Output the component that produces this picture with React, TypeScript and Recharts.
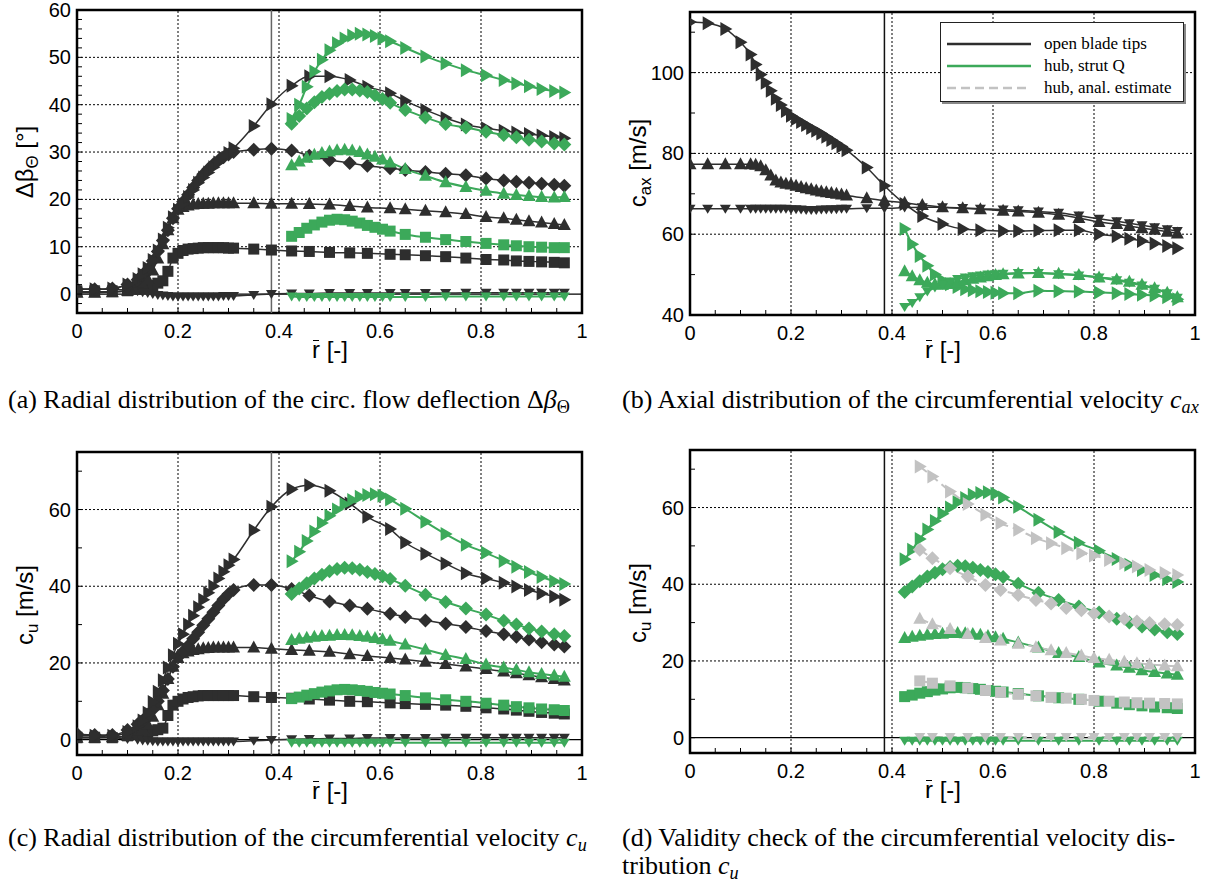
import React from "react";
import { ComposedChart, Line, XAxis, YAxis, ReferenceLine, ReferenceArea } from "recharts";

const BLACK = "#2e2e2e";
const GREEN = "#3ca95a";
const GRAY = "#c2c2c2";
const SANS = "'Liberation Sans', Arial, sans-serif";
const SERIF = "'Liberation Serif', 'Times New Roman', serif";

// radial stations
const rTips = [0, 0.035, 0.07, 0.1, 0.12, 0.13, 0.14, 0.15, 0.16, 0.17, 0.18, 0.19, 0.2, 0.21, 0.22, 0.23, 0.24, 0.25, 0.26, 0.27, 0.28, 0.29, 0.3, 0.31, 0.35, 0.385, 0.425, 0.46, 0.5, 0.54, 0.575, 0.62, 0.65, 0.69, 0.73, 0.77, 0.81, 0.845, 0.87, 0.895, 0.92, 0.945, 0.965];
const rHub = [0.425, 0.44, 0.455, 0.47, 0.485, 0.5, 0.515, 0.53, 0.545, 0.56, 0.575, 0.59, 0.605, 0.62, 0.65, 0.69, 0.73, 0.77, 0.81, 0.845, 0.87, 0.895, 0.92, 0.945, 0.965];
const rEst = [0.455, 0.48, 0.515, 0.55, 0.585, 0.615, 0.65, 0.685, 0.715, 0.745, 0.775, 0.8, 0.83, 0.86, 0.885, 0.91, 0.94, 0.965];
const rCasing = 0.385;

// axis ticks
const xTicks = [0, 0.05, 0.1, 0.15, 0.2, 0.25, 0.3, 0.35, 0.4, 0.45, 0.5, 0.55, 0.6, 0.65, 0.7, 0.75, 0.8, 0.85, 0.9, 0.95, 1];
const xMajor = [0, 0.2, 0.4, 0.6, 0.8, 1];
const xLabels = ["0", "0.2", "0.4", "0.6", "0.8", "1"];
const xGrid = [0.2, 0.4, 0.6, 0.8];

const defTicks = [-4, -2, 0, 2, 4, 6, 8, 10, 12, 14, 16, 18, 20, 22, 24, 26, 28, 30, 32, 34, 36, 38, 40, 42, 44, 46, 48, 50, 52, 54, 56, 58, 60];
const defMajor = [0, 10, 20, 30, 40, 50, 60];
const defGrid = [10, 20, 30, 40, 50];
const caxTicks = [40, 50, 60, 70, 80, 90, 100, 110];
const caxMajor = [40, 60, 80, 100];
const caxGrid = [60, 80, 100];
const cuTicks = [0, 10, 20, 30, 40, 50, 60, 70];
const cuMajor = [0, 20, 40, 60];
const cuGrid = [20, 40, 60];

// (a) flow deflection, open blade tips
const defTipsSquare = [0.5, 0.5, 0.5, 0.7, 1.0, 1.2, 1.5, 1.8, 2.3, 2.8, 4.8, 7.6, 8.6, 9.2, 9.5, 9.6, 9.7, 9.8, 9.8, 9.8, 9.8, 9.8, 9.7, 9.7, 9.5, 9.3, 9.1, 9.0, 8.8, 8.7, 8.6, 8.4, 8.3, 8.1, 7.9, 7.6, 7.3, 7.2, 7.0, 6.9, 6.8, 6.7, 6.6];
const defTipsUp = [0.3, 0.3, 0.4, 0.7, 1.2, 2.0, 3.2, 5.0, 7.5, 10.5, 13.5, 16.0, 17.8, 18.4, 18.7, 18.9, 19.0, 19.1, 19.1, 19.2, 19.2, 19.2, 19.2, 19.2, 19.2, 19.1, 19.1, 19.0, 18.9, 18.6, 18.3, 18.1, 17.9, 17.6, 17.3, 16.9, 16.3, 16.0, 15.7, 15.4, 15.1, 14.8, 14.6];
const defTipsDiamond = [1.0, 1.0, 1.2, 2.0, 3.0, 4.0, 5.2, 7.0, 9.0, 11.3, 13.5, 16.0, 18.0, 19.5, 21.0, 22.5, 24.0, 25.3, 26.4, 27.4, 28.2, 28.9, 29.5, 30.0, 30.5, 30.7, 30.3, 29.2, 28.3, 27.7, 27.1, 26.6, 26.2, 25.8, 25.4, 25.1, 24.4, 24.0, 23.7, 23.5, 23.3, 23.1, 22.9];
const defTipsDown = [1.0, 1.0, 1.0, 0.8, 0.6, 0.4, 0.2, 0.0, -0.2, -0.3, -0.4, -0.5, -0.5, -0.5, -0.5, -0.5, -0.5, -0.5, -0.5, -0.5, -0.5, -0.4, -0.4, -0.4, -0.2, 0.0, 0.1, 0.1, 0.2, 0.2, 0.2, 0.2, 0.2, 0.2, 0.2, 0.3, 0.3, 0.3, 0.3, 0.3, 0.3, 0.3, 0.3];
const defTipsRight = [1.0, 1.0, 1.2, 2.0, 3.2, 4.2, 5.5, 7.2, 9.2, 11.5, 14.0, 16.2, 17.8, 19.0, 20.5, 22.0, 23.5, 24.6, 25.7, 26.8, 27.8, 28.8, 29.8, 30.8, 35.5, 40.1, 44.0, 46.0, 46.0, 45.2, 43.8, 42.4, 40.8, 38.9, 37.2, 35.8, 35.0, 34.5, 34.1, 33.8, 33.5, 33.2, 32.9];

// (a) flow deflection, hub strut Q
const defHubSquare = [12.2, 13.0, 13.9, 14.6, 15.2, 15.6, 15.8, 15.7, 15.4, 15.0, 14.5, 14.1, 13.7, 13.3, 12.6, 12.0, 11.5, 11.1, 10.7, 10.4, 10.2, 10.0, 9.9, 9.8, 9.8];
const defHubUp = [27.2, 28.0, 28.8, 29.4, 29.8, 30.1, 30.4, 30.5, 30.3, 30.0, 29.5, 29.0, 28.4, 27.8, 26.4, 25.0, 23.6, 22.6, 21.8, 21.2, 20.9, 20.7, 20.5, 20.4, 20.5];
const defHubDiamond = [36.0, 37.6, 39.2, 40.5, 41.6, 42.3, 42.9, 43.2, 43.2, 43.0, 42.7, 42.0, 41.2, 40.4, 38.9, 37.3, 35.9, 35.2, 34.3, 33.6, 33.1, 32.6, 32.2, 31.8, 31.6];
const defHubDown = [-0.5, -0.6, -0.6, -0.6, -0.6, -0.6, -0.6, -0.6, -0.6, -0.6, -0.6, -0.6, -0.6, -0.6, -0.6, -0.6, -0.5, -0.5, -0.5, -0.5, -0.5, -0.5, -0.5, -0.5, -0.5];
const defHubRight = [37.0, 40.0, 43.8, 47.0, 49.5, 51.5, 53.0, 54.0, 54.6, 55.0, 54.8, 54.5, 54.0, 53.4, 52.0, 50.2, 48.7, 47.3, 46.2, 45.2, 44.5, 43.9, 43.3, 42.9, 42.6];

// (b) axial velocity
const caxTipsRight = [112.5, 112.2, 110.8, 107.5, 104.5, 102.0, 99.5, 97.5, 95.5, 93.5, 92.0, 90.5, 89.3, 88.5, 87.8, 87.0, 86.3, 85.6, 84.9, 84.1, 83.3, 82.5, 81.7, 80.8, 76.5, 72.0, 67.5, 64.5, 62.5, 61.3, 61.0, 60.8, 60.8, 60.9, 61.0, 61.0, 60.0, 59.5, 58.9, 58.3, 57.7, 57.1, 56.5];
const caxTipsUp = [77.3, 77.3, 77.3, 77.3, 77.3, 77.2, 76.8, 75.8, 74.5, 73.3, 72.8, 72.5, 72.3, 72.0, 71.7, 71.4, 71.1, 70.8, 70.6, 70.4, 70.2, 70.0, 69.8, 69.6, 68.9, 68.3, 67.8, 67.2, 66.7, 66.4, 66.2, 65.8, 65.6, 65.3, 64.8, 64.0, 63.0, 62.5, 62.0, 61.5, 61.1, 60.6, 60.2];
const caxTipsDown = [66.3, 66.3, 66.3, 66.3, 66.3, 66.3, 66.3, 66.3, 66.3, 66.3, 66.3, 66.3, 66.2, 66.2, 66.1, 66.0, 66.0, 66.0, 66.1, 66.1, 66.2, 66.2, 66.3, 66.3, 66.4, 66.4, 66.6, 66.7, 66.7, 66.5, 66.3, 66.1, 65.9, 65.6, 65.3, 64.6, 63.8, 63.2, 62.7, 62.2, 61.7, 61.2, 60.8];
const caxHubRight = [61.3, 57.5, 54.6, 52.2, 50.0, 48.6, 47.6, 46.9, 46.4, 46.1, 45.9, 45.7, 45.5, 45.4, 45.4, 46.0, 45.9, 45.8, 45.6, 45.4, 45.2, 45.0, 44.8, 44.4, 43.9];
const caxHubUp = [50.8, 49.6, 48.6, 48.0, 47.6, 47.5, 47.7, 48.1, 48.6, 49.0, 49.3, 49.6, 49.9, 50.1, 50.3, 50.4, 50.2, 49.9, 49.3, 48.8, 48.2, 47.5, 46.6, 45.5, 44.4];
const caxHubDown = [42.0, 43.0, 44.4, 45.8, 46.8, 47.5, 48.3, 48.9, 49.3, 49.6, 49.8, 50.0, 50.1, 50.2, 50.4, 50.4, 50.1, 49.8, 49.3, 48.6, 48.0, 47.3, 46.5, 45.4, 44.3];

// (c) circumferential velocity, open blade tips
const cuTipsSquare = [0.5, 0.5, 0.5, 1.0, 1.5, 1.8, 2.0, 2.3, 2.6, 3.0, 6.3, 9.0, 10.0, 10.6, 11.0, 11.2, 11.4, 11.5, 11.5, 11.5, 11.5, 11.5, 11.5, 11.5, 11.2, 11.0, 10.8, 10.6, 10.3, 10.0, 9.9, 9.6, 9.4, 9.2, 9.0, 8.7, 8.3, 8.0, 7.7, 7.4, 7.1, 6.9, 6.7];
const cuTipsUp = [0.5, 0.5, 0.6, 1.0, 1.8, 2.8, 4.0, 6.0, 9.0, 12.0, 15.8, 19.0, 21.3, 22.5, 23.0, 23.4, 23.6, 23.8, 23.9, 24.0, 24.0, 24.0, 24.0, 24.0, 24.0, 23.7, 23.4, 23.2, 22.9, 22.3, 21.8, 21.3, 20.9, 20.3, 19.7, 19.1, 18.4, 17.8, 17.3, 16.8, 16.3, 15.8, 15.4];
const cuTipsDiamond = [1.5, 1.2, 1.2, 2.5, 4.0, 5.0, 6.2, 7.8, 10.0, 12.8, 15.8, 19.0, 21.5, 23.0, 24.5, 26.3, 28.0, 29.8, 31.5, 33.2, 35.0, 36.6, 38.0, 39.0, 40.3, 40.3, 39.3, 37.6, 36.0, 35.0, 34.1, 32.8, 32.0, 31.1, 30.2, 29.4, 28.3, 27.5, 26.8, 26.1, 25.4, 24.8, 24.3];
const cuTipsDown = [1.0, 1.0, 0.5, 0.2, 0.0, -0.2, -0.3, -0.4, -0.5, -0.5, -0.5, -0.5, -0.5, -0.5, -0.5, -0.5, -0.5, -0.5, -0.5, -0.5, -0.5, -0.5, -0.5, -0.5, -0.3, -0.1, 0.1, 0.2, 0.3, 0.3, 0.4, 0.4, 0.4, 0.4, 0.5, 0.5, 0.5, 0.5, 0.5, 0.5, 0.5, 0.5, 0.5];
const cuTipsRight = [1.0, 1.0, 1.0, 2.0, 3.5, 5.0, 7.0, 9.8, 12.5, 15.5, 18.8, 22.0, 25.0, 27.5, 30.0, 32.3, 34.5, 36.5, 38.3, 40.0, 42.0, 43.8, 45.5, 47.0, 54.6, 60.7, 65.3, 66.3, 64.9, 61.6, 58.1, 54.9, 51.4, 48.5, 45.9, 43.4, 42.0, 40.9, 39.9, 39.0, 38.1, 37.3, 36.5];

// (c)/(d) circumferential velocity, hub strut Q
const cuHubSquare = [10.7, 11.1, 11.6, 12.0, 12.4, 12.7, 13.0, 13.1, 13.0, 12.8, 12.6, 12.3, 12.1, 11.9, 11.5, 10.9, 10.4, 10.0, 9.5, 9.0, 8.6, 8.3, 8.0, 7.8, 7.6];
const cuHubUp = [26.0, 26.3, 26.6, 26.8, 27.0, 27.1, 27.3, 27.3, 27.2, 27.0, 26.8, 26.5, 26.2, 25.8, 24.8, 23.5, 22.1, 21.0, 19.6, 18.8, 18.2, 17.6, 17.1, 16.7, 16.4];
const cuHubDiamond = [38.0, 39.4, 40.8, 42.0, 43.0, 43.9, 44.5, 44.8, 44.7, 44.3, 43.7, 43.2, 42.6, 41.9, 40.1, 37.8, 35.9, 34.2, 32.6, 31.0, 30.0, 29.0, 28.2, 27.5, 27.0];
const cuHubDown = [-0.8, -0.8, -0.8, -0.8, -0.8, -0.8, -0.8, -0.8, -0.8, -0.8, -0.8, -0.8, -0.8, -0.8, -0.8, -0.8, -0.8, -0.8, -0.8, -0.8, -0.8, -0.8, -0.8, -0.8, -0.8];
const cuHubRight = [46.5, 49.0, 51.8, 54.3, 56.5, 58.4, 60.0, 61.4, 62.5, 63.3, 63.8, 64.0, 63.6, 62.6, 60.2, 56.8, 53.6, 50.8, 48.7, 46.6, 45.1, 43.7, 42.4, 41.3, 40.6];

// (d) hub, analytical estimate
const cuEstRight = [70.7, 68.1, 64.2, 60.9, 58.1, 55.9, 54.2, 52.0, 50.7, 49.4, 48.1, 47.5, 46.3, 45.5, 44.6, 43.7, 42.9, 42.4];
const cuEstDiamond = [49.0, 46.8, 44.2, 42.0, 39.8, 38.5, 37.2, 35.9, 35.0, 33.8, 33.2, 32.4, 31.6, 31.0, 30.3, 29.9, 29.6, 29.4];
const cuEstUp = [31.0, 29.6, 28.3, 27.0, 26.0, 25.3, 24.5, 23.6, 22.8, 22.1, 21.4, 20.8, 20.3, 19.8, 19.4, 19.1, 18.8, 18.6];
const cuEstSquare = [14.8, 14.2, 13.5, 12.9, 12.3, 11.8, 11.3, 10.9, 10.5, 10.3, 10.0, 9.7, 9.5, 9.3, 9.1, 9.0, 8.9, 8.8];
const cuEstDown = [0.2, 0.2, 0.2, 0.2, 0.2, 0.2, 0.2, 0.2, 0.2, 0.2, 0.2, 0.2, 0.2, 0.2, 0.2, 0.2, 0.2, 0.2];

type Shape = "square" | "up" | "down" | "diamond" | "right";
type Series = { r: number[]; v: number[]; color: string; shape: Shape; dashed?: boolean };

const tips = (v: number[], shape: Shape): Series => ({ r: rTips, v, color: BLACK, shape });
const hub = (v: number[], shape: Shape): Series => ({ r: rHub, v, color: GREEN, shape });
const est = (v: number[], shape: Shape): Series => ({ r: rEst, v, color: GRAY, shape, dashed: true });

function Marker({ cx, cy, shape, color }: { cx?: number; cy?: number; shape: Shape; color: string }) {
  if (cx == null || cy == null) return null;
  let pts = "";
  if (shape === "square") return <rect x={cx - 5.5} y={cy - 5.5} width={11} height={11} fill={color} />;
  if (shape === "up") pts = `${cx},${cy - 7} ${cx + 6.5},${cy + 5} ${cx - 6.5},${cy + 5}`;
  if (shape === "down") pts = `${cx - 5.5},${cy - 4} ${cx + 5.5},${cy - 4} ${cx},${cy + 5}`;
  if (shape === "diamond") pts = `${cx},${cy - 7} ${cx + 7},${cy} ${cx},${cy + 7} ${cx - 7},${cy}`;
  if (shape === "right") pts = `${cx - 5},${cy - 7} ${cx + 7},${cy} ${cx - 5},${cy + 7}`;
  return <polygon points={pts} fill={color} />;
}

function XTick(props: any) {
  const { x, y, payload } = props;
  const i = xMajor.indexOf(payload.value);
  return (
    <g>
      <line x1={x} x2={x} y1={y} y2={y - 5} stroke="#000" strokeWidth={1} />
      {i >= 0 && (
        <text x={x} y={y + 25} textAnchor="middle" fontFamily={SANS} fontSize={20} fill="#000">
          {xLabels[i]}
        </text>
      )}
    </g>
  );
}

function YTick(props: any) {
  const { x, y, payload, major } = props;
  const isMajor = major.indexOf(payload.value) >= 0;
  return (
    <g>
      <line x1={x} x2={x + 5} y1={y} y2={y} stroke="#000" strokeWidth={1} />
      {isMajor && (
        <text x={x - 6} y={y + 7} textAnchor="end" fontFamily={SANS} fontSize={20} fill="#000">
          {String(payload.value)}
        </text>
      )}
    </g>
  );
}

const PW = 505;
const PH = 303;
const YW = 70;
const XH = 45;
const MT = 12;
const MR = 12;

type PanelProps = {
  left: number;
  top: number;
  yDomain: [number, number];
  yTicks: number[];
  yMajor: number[];
  yGrid: number[];
  zeroLine: boolean;
  casingColor: string;
  series: Series[];
};

function Panel(p: PanelProps) {
  return (
    <div style={{ position: "absolute", left: p.left - YW, top: p.top - MT }}>
      <ComposedChart width={PW + YW + MR} height={PH + MT + XH} margin={{ top: MT, right: MR, left: 0, bottom: 0 }}>
        <XAxis type="number" dataKey="r" domain={[0, 1]} ticks={xTicks} interval={0} tick={<XTick />}
          tickSize={0} tickMargin={0} tickLine={false} axisLine={false} height={XH} allowDataOverflow />
        <YAxis type="number" domain={p.yDomain} ticks={p.yTicks} interval={0} tick={<YTick major={p.yMajor} />}
          tickSize={0} tickMargin={0} tickLine={false} axisLine={false} width={YW} allowDataOverflow />
        {xGrid.map((x) => (
          <ReferenceLine key={"gx" + x} x={x} stroke="#000" strokeWidth={1} strokeDasharray="2 2" />
        ))}
        {p.yGrid.map((y) => (
          <ReferenceLine key={"gy" + y} y={y} stroke="#000" strokeWidth={1} strokeDasharray="2 2" />
        ))}
        {p.zeroLine && <ReferenceLine y={0} stroke="#000" strokeWidth={1.3} />}
        <ReferenceLine x={rCasing} stroke={p.casingColor} strokeWidth={1.5} />
        {p.series.map((s, k) => (
          <Line
            key={k}
            data={s.r.map((r, i) => ({ r, v: s.v[i] }))}
            dataKey="v"
            type="monotone"
            stroke={s.color}
            strokeWidth={s.color === BLACK ? 1.5 : 2}
            strokeDasharray={s.dashed ? "9 5" : undefined}
            dot={(d: any) => <Marker key={"m" + k + "-" + d.index} cx={d.cx} cy={d.cy} shape={s.shape} color={s.color} />}
            activeDot={false}
            isAnimationActive={false}
          />
        ))}
        <ReferenceArea x1={0} x2={1} y1={p.yDomain[0]} y2={p.yDomain[1]} fill="none" stroke="#000" strokeWidth={2.5} />
      </ComposedChart>
    </div>
  );
}

function YTitle({ cx, cy, children }: { cx: number; cy: number; children: React.ReactNode }) {
  return (
    <div style={{ position: "absolute", left: cx, top: cy, transform: "translate(-50%, -50%) rotate(-90deg)", whiteSpace: "nowrap", fontFamily: SANS, fontSize: 24, lineHeight: 1 }}>
      {children}
    </div>
  );
}

function XTitle({ cx, cy }: { cx: number; cy: number }) {
  return (
    <div style={{ position: "absolute", left: cx, top: cy, transform: "translate(-50%, -50%)", whiteSpace: "nowrap", fontFamily: SANS, fontSize: 24, lineHeight: 1 }}>
      <span style={{ position: "relative" }}>
        r
        <span style={{ position: "absolute", left: 1, right: 1, top: 4, borderTop: "1.5px solid #000" }} />
      </span>{" "}
      [-]
    </div>
  );
}

const sub = { fontSize: "0.7em", verticalAlign: "-0.3em", lineHeight: 0 } as const;

function Caption({ left, top, children }: { left: number; top: number; children: React.ReactNode }) {
  return (
    <div style={{ position: "absolute", left, top, fontFamily: SERIF, fontSize: 26, lineHeight: "28px", whiteSpace: "nowrap", color: "#000" }}>
      {children}
    </div>
  );
}

const legendItems = [
  { label: "open blade tips", color: BLACK, dashed: false },
  { label: "hub, strut Q", color: GREEN, dashed: false },
  { label: "hub, anal. estimate", color: GRAY, dashed: true },
];

function LegendBox() {
  return (
    <div style={{ position: "absolute", left: 940, top: 22, width: 244, height: 80, border: "1.5px solid #222", boxShadow: "2px 2px 0 #888", background: "#fff", boxSizing: "border-box" }}>
      {legendItems.map((it, i) => (
        <div key={i} style={{ position: "absolute", left: 6, top: 10 + i * 22, height: 22, display: "flex", alignItems: "center" }}>
          <svg width={84} height={6}>
            <line x1={0} x2={84} y1={3} y2={3} stroke={it.color} strokeWidth={2.5} strokeDasharray={it.dashed ? "9 5" : undefined} />
          </svg>
          <span style={{ marginLeft: 13, fontFamily: SERIF, fontSize: 17, whiteSpace: "nowrap" }}>{it.label}</span>
        </div>
      ))}
    </div>
  );
}

export default function App() {
  const seriesA: Series[] = [
    tips(defTipsSquare, "square"), tips(defTipsUp, "up"), tips(defTipsDiamond, "diamond"), tips(defTipsDown, "down"), tips(defTipsRight, "right"),
    hub(defHubSquare, "square"), hub(defHubUp, "up"), hub(defHubDiamond, "diamond"), hub(defHubDown, "down"), hub(defHubRight, "right"),
  ];
  const seriesB: Series[] = [
    tips(caxTipsRight, "right"), tips(caxTipsUp, "up"), tips(caxTipsDown, "down"),
    hub(caxHubRight, "right"), hub(caxHubUp, "up"), hub(caxHubDown, "down"),
  ];
  const seriesC: Series[] = [
    tips(cuTipsSquare, "square"), tips(cuTipsUp, "up"), tips(cuTipsDiamond, "diamond"), tips(cuTipsDown, "down"), tips(cuTipsRight, "right"),
    hub(cuHubSquare, "square"), hub(cuHubUp, "up"), hub(cuHubDiamond, "diamond"), hub(cuHubDown, "down"), hub(cuHubRight, "right"),
  ];
  const seriesD: Series[] = [
    hub(cuHubSquare, "square"), hub(cuHubUp, "up"), hub(cuHubDiamond, "diamond"), hub(cuHubDown, "down"), hub(cuHubRight, "right"),
    est(cuEstSquare, "square"), est(cuEstUp, "up"), est(cuEstDiamond, "diamond"), est(cuEstDown, "down"), est(cuEstRight, "right"),
  ];

  return (
    <div style={{ position: "absolute", left: 0, top: 0, width: 1221, height: 888, background: "#fff", overflow: "hidden" }}>
      <Panel left={77} top={10} yDomain={[-4, 60]} yTicks={defTicks} yMajor={defMajor} yGrid={defGrid} zeroLine casingColor="#666" series={seriesA} />
      <Panel left={690} top={12} yDomain={[40, 115]} yTicks={caxTicks} yMajor={caxMajor} yGrid={caxGrid} zeroLine={false} casingColor="#111" series={seriesB} />
      <Panel left={77} top={452} yDomain={[-4, 75]} yTicks={cuTicks} yMajor={cuMajor} yGrid={cuGrid} zeroLine casingColor="#666" series={seriesC} />
      <Panel left={690} top={450} yDomain={[-4, 75]} yTicks={cuTicks} yMajor={cuMajor} yGrid={cuGrid} zeroLine casingColor="#111" series={seriesD} />
      <LegendBox />

      <YTitle cx={25} cy={162}>Δβ<span style={sub}>Θ</span> [°]</YTitle>
      <YTitle cx={638} cy={163}>c<span style={sub}>ax</span> [m/s]</YTitle>
      <YTitle cx={25} cy={605}>c<span style={sub}>u</span> [m/s]</YTitle>
      <YTitle cx={638} cy={603}>c<span style={sub}>u</span> [m/s]</YTitle>

      <XTitle cx={330} cy={350} />
      <XTitle cx={943} cy={350} />
      <XTitle cx={330} cy={791} />
      <XTitle cx={943} cy={790} />

      <Caption left={8} top={386}>(a) Radial distribution of the circ. flow deflection Δ<i>β</i><span style={sub}>Θ</span></Caption>
      <Caption left={622} top={386}>(b) Axial distribution of the circumferential velocity <i>c</i><i style={sub}>ax</i></Caption>
      <Caption left={8} top={824}>(c) Radial distribution of the circumferential velocity <i>c</i><i style={sub}>u</i></Caption>
      <Caption left={622} top={824}>(d) Validity check of the circumferential velocity dis-<br />tribution <i>c</i><i style={sub}>u</i></Caption>
    </div>
  );
}
